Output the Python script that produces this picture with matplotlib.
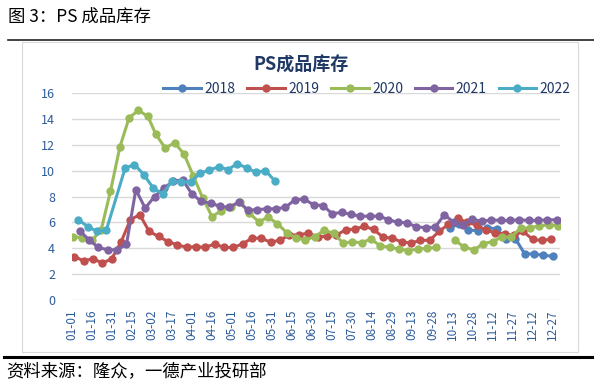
import numpy as np
import pandas as pd
import matplotlib
matplotlib.use('Agg')
import matplotlib.pyplot as plt
from matplotlib.lines import Line2D
from matplotlib.patches import Rectangle

plt.rcParams['font.family'] = ['Noto Sans CJK SC', 'DejaVu Sans']

# weekly data (Thursday), start date per year
years = ['2018', '2019', '2020', '2021', '2022']
starts = ['2018-10-11', '2019-01-03', '2020-01-02', '2021-01-07', '2022-01-06']

v2018 = [5.56, 5.9, 5.4, 5.37, 5.6, 5.5, 4.72, 4.75, 3.58, 3.55, 3.46, 3.38]
v2019 = [3.36, 3.02, 3.2, 2.84, 3.2, 4.5, 6.22, 6.59, 5.3, 4.91,
         4.52, 4.26, 4.08, 4.13, 4.06, 4.34, 4.06, 4.06, 4.34, 4.78,
         4.78, 4.45, 4.65, 5.0, 5.05, 5.15, 4.9, 4.91, 5.0, 5.43,
         5.48, 5.7, 5.45, 4.86, 4.78, 4.48, 4.42, 4.6, 4.62, 5.3,
         5.85, 6.3, 6.0, 5.8, 5.4, 5.2, 5.1, 5.0, 5.3, 4.68,
         4.6, 4.7]
v2020 = [4.9, 4.8, 4.6, 5.4, 8.4, 11.8, 14.1, 14.65, 14.2, 12.8,
         11.75, 12.15, 11.3, 9.6, 7.9, 6.45, 6.9, 7.2, 7.6, 6.7,
         6.05, 6.4, 5.9, 5.2, 4.78, 4.65, 4.9, 5.4, 5.15, 4.42,
         4.48, 4.44, 4.7, 4.19, 4.08, 3.93, 3.82, 3.93, 4.0, 4.06,
         np.nan, 4.6, 4.08, 3.88, 4.34, 4.52, 4.86, 4.86, 5.56, 5.56,
         5.74, 5.81, 5.74]
v2021 = [5.35, 4.65, 4.06, 3.88, 3.88, 4.3, 8.53, 7.1, 8.0, 8.66,
         9.17, 9.3, 8.19, 7.62, 7.49, 7.24, 7.16, 7.57, 6.95, 6.98,
         7.05, 7.05, 7.16, 7.75, 7.8, 7.36, 7.3, 6.67, 6.77, 6.62,
         6.48, 6.48, 6.48, 6.22, 6.0, 5.97, 5.65, 5.6, 5.63, 6.59,
         6.0, 5.81, 6.25, 6.07, 6.2, 6.15, 6.15, 6.2, 6.15, 6.15,
         6.2, 6.2]
v2022 = [6.2, 5.68, 5.3, 5.43, np.nan, 10.2, 10.47, 9.69, 8.66, 8.2,
         9.17, 9.12, 9.12, 9.8, 10.04, 10.3, 10.08, 10.55, 10.2, 9.87,
         10.0, 9.22]
values = [v2018, v2019, v2020, v2021, v2022]
connect_gaps = ['2022']  # missing week is bridged in this series

tick_labels = ['01-01', '01-16', '01-31', '02-15', '03-02', '03-17', '04-01',
               '04-16', '05-01', '05-16', '05-31', '06-15', '06-30', '07-15',
               '07-30', '08-14', '08-29', '09-13', '09-28', '10-13', '10-28',
               '11-12', '11-27', '12-12', '12-27']

COLORS = ['#4F81BD', '#C0504D', '#9BBB59', '#8064A2', '#4BACC6']
NAVY = '#1F3864'
TICK_C = '#2E5C9A'
GRID = '#D9D9D9'

W, H = 594, 386


def fx(x):
    return x / W


def fy(y):
    return 1 - y / H


def day_no(ts):
    # month-day position on a common (non-leap) year axis
    return (pd.Timestamp(2019, ts.month, ts.day) - pd.Timestamp(2019, 1, 1)).days + 1


fig = plt.figure(figsize=(W / 100, H / 100), dpi=100)

# chart frame and page rules
fig.add_artist(Rectangle((fx(22), fy(352)), (578 - 22) / W, (352 - 42) / H,
                         transform=fig.transFigure, fill=False,
                         edgecolor=GRID, linewidth=0.8))
fig.add_artist(Line2D([fx(8), 1], [fy(40), fy(40)], color='#222222', linewidth=1.2))
fig.add_artist(Line2D([fx(4), 1], [fy(357), fy(357)], color='black', linewidth=2.2))

fig.text(fx(8), fy(17), '图 3：PS 成品库存', fontsize=12.5, va='center', ha='left')
fig.text(fx(6), fy(371), '资料来源：隆众，一德产业投研部', fontsize=12.5,
         va='center', ha='left')

ax = fig.add_axes([fx(71.7), fy(300), (560 - 71.7) / W, (300 - 93) / H])

handles = []
for name, start, vals, col in zip(years, starts, values, COLORS):
    dates = pd.date_range(start, periods=len(vals), freq='7D')
    x = np.array([day_no(d) for d in dates], dtype=float)
    y = np.array(vals, dtype=float)
    if name in connect_gaps:
        ok = ~np.isnan(y)
        x, y = x[ok], y[ok]
    h, = ax.plot(x, y, color=col, linewidth=2.2, marker='o', markersize=6,
                 markeredgewidth=0, label=name)
    handles.append(h)

ax.set_xlim(1.3, 366.5)
ax.set_ylim(0, 16)
ax.set_yticks(range(0, 17, 2))
ax.set_xticks([day_no(pd.Timestamp('2019-' + t)) for t in tick_labels])
ax.set_xticklabels(tick_labels, rotation=90)
ax.tick_params(axis='both', length=0, colors=TICK_C, labelsize=9)
ax.tick_params(axis='x', pad=7, labelsize=8.5)
ax.tick_params(axis='y', pad=12)
ax.grid(axis='y', color=GRID, linewidth=1)
ax.set_axisbelow(True)
for s in ax.spines.values():
    s.set_visible(False)

fig.text(fx(301), fy(65), 'PS成品库存', fontsize=13, fontweight='bold',
         color=NAVY, ha='center', va='center')

leg = fig.legend(handles, years, loc='center', bbox_to_anchor=(fx(367), fy(89)),
                 ncol=5, frameon=False, fontsize=10, handlelength=2.7,
                 handletextpad=0.25, columnspacing=0.85)
for t in leg.get_texts():
    t.set_color(NAVY)

plt.savefig('out.png', dpi=100, facecolor='white')
plt.close()
